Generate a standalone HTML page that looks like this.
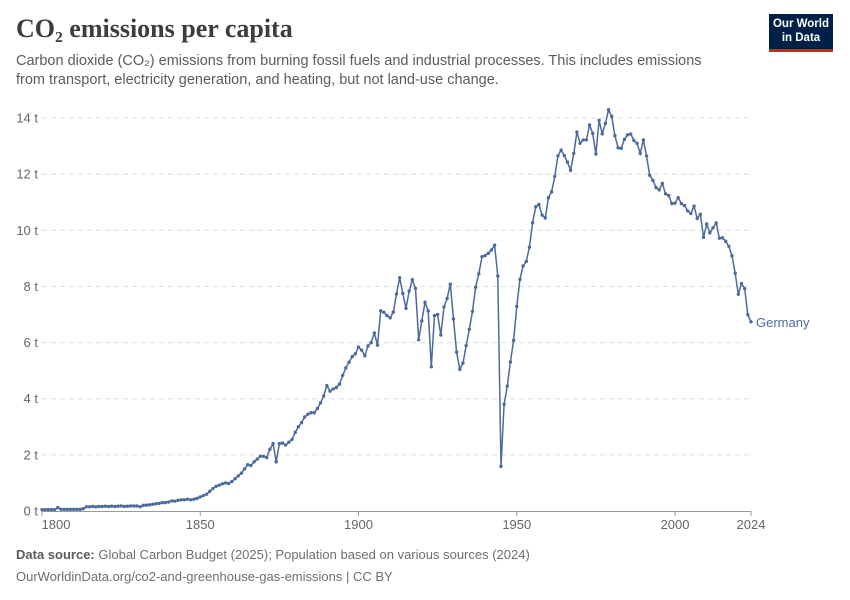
<!DOCTYPE html>
<html><head><meta charset="utf-8">
<style>
body{margin:0;background:#fff;font-family:"Liberation Sans",sans-serif;}
#wrap{position:relative;width:850px;height:600px;overflow:hidden;}
.t{position:absolute;white-space:nowrap;}
</style></head>
<body>
<div id="wrap">
<div class="t" style="left:16px;top:14px;font-family:'Liberation Serif',serif;font-size:26px;font-weight:bold;color:#3d3d3d;">CO₂ emissions per capita</div>
<div class="t" style="left:16px;top:52px;font-size:14.5px;line-height:19px;color:#5b5b5b;">Carbon dioxide (CO₂) emissions from burning fossil fuels and industrial processes. This includes emissions<br>from transport, electricity generation, and heating, but not land-use change.</div>
<div style="position:absolute;left:769px;top:14px;width:64px;height:38px;background:#002147;border-bottom:3px solid #ce261e;color:#fff;font-size:11.5px;font-weight:bold;line-height:14px;text-align:center;padding-top:3px;box-sizing:border-box;">Our World<br>in Data</div>
<svg id="chart" width="850" height="600" style="position:absolute;left:0;top:0"></svg>
<div class="t" style="left:16px;top:547px;font-size:13px;color:#6e6e6e;"><b style="color:#5b5b5b">Data source:</b> Global Carbon Budget (2025); Population based on various sources (2024)</div>
<div class="t" style="left:16px;top:569px;font-size:13px;color:#6e6e6e;">OurWorldinData.org/co2-and-greenhouse-gas-emissions | CC BY</div>
</div>
<script>
const startYear = 1800;
const germany = [
0.05,0.05,0.05,0.05,0.05,0.12,0.06,0.06,0.06,0.06,0.06,0.06,0.06,0.08,0.15,0.15,0.16,0.15,0.16,0.16,
0.17,0.16,0.17,0.16,0.17,0.18,0.16,0.17,0.18,0.18,0.18,0.15,0.2,0.21,0.22,0.24,0.26,0.27,0.3,0.3,
0.32,0.36,0.35,0.38,0.4,0.4,0.42,0.4,0.42,0.45,
0.5,0.55,0.6,0.7,0.8,0.88,0.92,0.97,1.0,0.98,1.05,1.15,1.25,1.35,1.5,1.65,1.62,1.75,1.85,1.95,
1.95,1.9,2.2,2.4,1.75,2.4,2.42,2.35,2.45,2.55,2.8,3.0,3.15,3.35,3.45,3.5,3.5,3.65,3.85,4.1,
4.47,4.27,4.35,4.4,4.52,4.83,5.1,5.3,5.5,5.6,
5.84,5.73,5.53,5.88,6.0,6.34,5.91,7.13,7.08,6.96,6.88,7.09,7.73,8.31,7.75,7.22,7.84,8.24,7.93,6.1,
6.77,7.43,7.13,5.14,6.96,7.0,6.27,7.27,7.57,8.08,6.84,5.66,5.05,5.27,5.89,6.47,7.11,7.97,8.45,9.06,
9.1,9.18,9.3,9.47,8.37,1.59,3.8,4.45,5.31,6.08,
7.29,8.25,8.73,8.89,9.4,10.27,10.84,10.92,10.54,10.44,11.16,11.37,11.92,12.65,12.86,12.66,12.43,12.14,12.74,13.5,
13.1,13.22,13.22,13.75,13.45,12.72,13.92,13.44,13.81,14.29,14.06,13.37,12.94,12.92,13.24,13.4,13.43,13.2,13.1,12.74,
13.22,12.65,11.96,11.78,11.52,11.44,11.67,11.3,11.24,10.95,10.97,11.16,10.95,10.88,10.69,10.6,10.86,10.42,10.57,9.75,
10.22,9.91,10.09,10.26,9.72,9.73,9.61,9.43,9.09,8.47,7.72,8.1,7.92,6.99,6.74
];
const yTicks = [0,2,4,6,8,10,12,14];
const xTicks = [1800,1850,1900,1950,2000,2024];

const NS='http://www.w3.org/2000/svg';
const svg=document.getElementById('chart');
const x0=42,x1=751,yBase=511,pxPerT=28.07;
const xs=y=>x0+(y-startYear)*(x1-x0)/(2024-startYear);
const ys=v=>yBase-v*pxPerT;
function mk(tag,attrs){const e=document.createElementNS(NS,tag);for(const k in attrs)e.setAttribute(k,attrs[k]);svg.appendChild(e);return e;}

yTicks.forEach(v=>{
  if(v>0){const g=mk('line',{x1:x0,x2:x1,y1:ys(v),y2:ys(v),stroke:'#dddddd','stroke-dasharray':'5,4'});
  
  }
  const t=mk('text',{x:38,y:ys(v)+4.5,'text-anchor':'end','font-size':13,fill:'#666','font-family':'Liberation Sans, sans-serif'});
  t.textContent=v+' t';
  
  
});
const ax=mk('line',{x1:x0,x2:x1,y1:yBase+0.5,y2:yBase+0.5,stroke:'#999'});


xTicks.forEach(yr=>{
  const tk=mk('line',{x1:xs(yr),x2:xs(yr),y1:yBase,y2:yBase+5,stroke:'#999'});
  
  
  const lx=yr===startYear?xs(yr)+14:xs(yr);
  const t=mk('text',{x:lx,y:529,'text-anchor':'middle','font-size':13,fill:'#666','font-family':'Liberation Sans, sans-serif'});
  t.textContent=yr;
  
  
});
const pts=germany.map((v,i)=>[xs(startYear+i),ys(v)]);
const line=mk('path',{d:'M'+pts.map(p=>p[0].toFixed(1)+','+p[1].toFixed(1)).join('L'),fill:'none',stroke:'#4c6a9c','stroke-width':1.5});


pts.forEach(p=>{
  const c=mk('circle',{cx:p[0],cy:p[1],r:1.7,fill:'#4c6a9c'});
  
  
});
const last=pts[pts.length-1];
const lab=mk('text',{x:last[0]+5,y:last[1]+5,'font-size':13,fill:'#4c6a9c','font-family':'Liberation Sans, sans-serif'});
lab.textContent='Germany';


</script>
</body></html>
